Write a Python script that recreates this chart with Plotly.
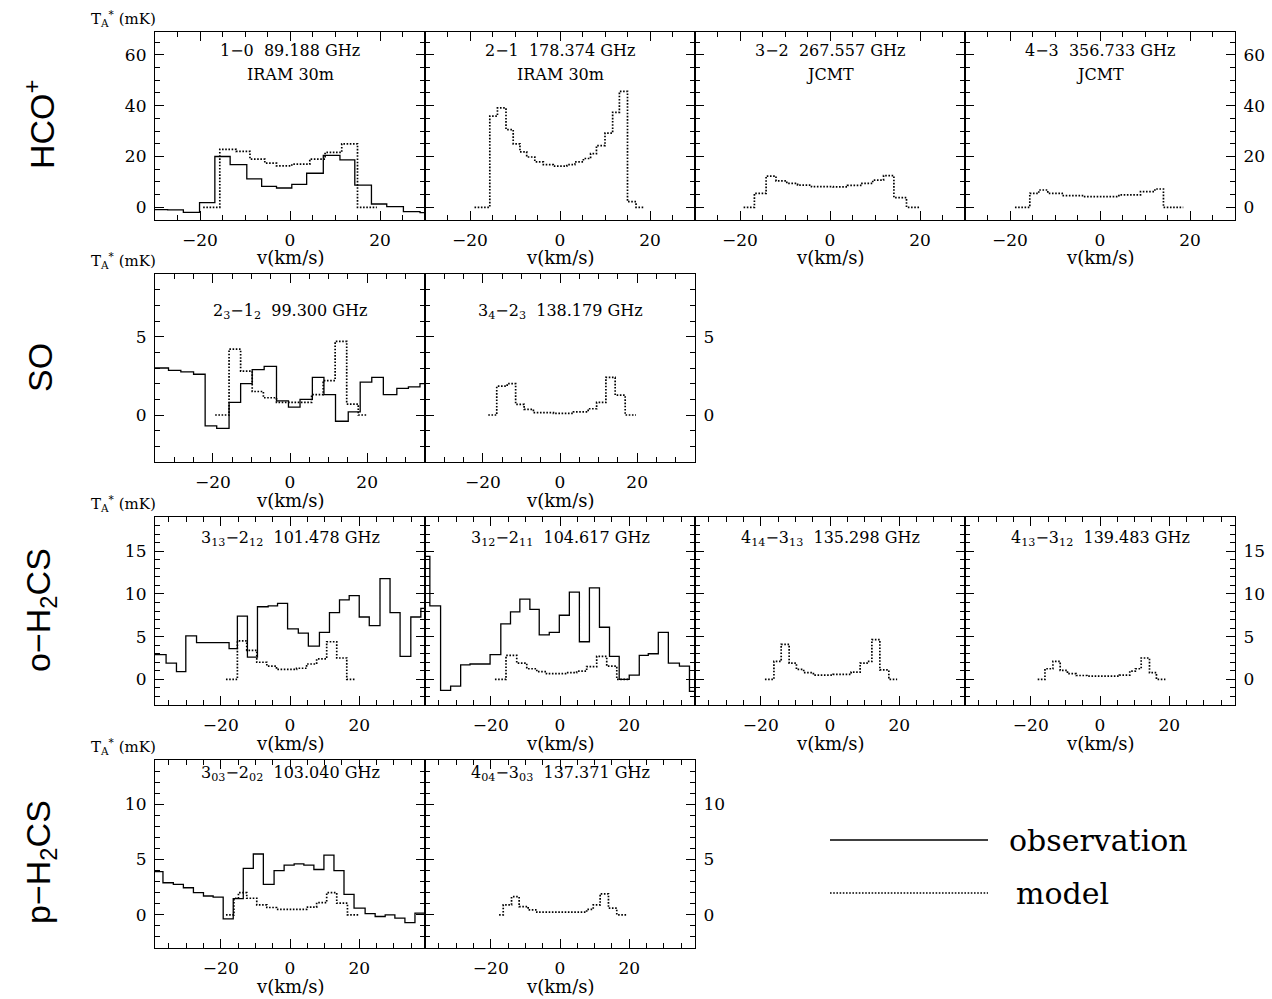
import plotly.graph_objects as go

# ===================== DATA (velocity bin edges in km/s, T_A* in mK) =====================
# HCO+ 1-0  (IRAM 30m)
hco10_obs_v = [-34.0, -27.2, -23.7, -20.1, -16.7, -13.3, -9.6, -6.3, -3.0, 0.4, 3.7, 7.4, 11.1,
               14.4, 18.1, 21.5, 25.2, 28.9, 32.4]
hco10_obs_T = [-0.9, -1.05, -2.0, 1.8, 20.0, 16.8, 11.2, 8.2, 7.6, 9.0, 13.4, 20.4, 18.7,
               8.7, 1.3, 0.3, -1.7, -2.1]
hco10_mod_v = [-19.3, -15.6, -12.0, -8.9, -5.6, -3.0, 0.4, 4.4, 7.8, 11.5, 15.0, 19.3]
hco10_mod_T = [0.0, 22.8, 22.0, 19.0, 17.4, 16.3, 17.0, 19.0, 21.6, 25.0, 0.0]

# HCO+ 2-1  (IRAM 30m)
hco21_mod_v = [-19.0, -15.6, -13.9, -12.0, -10.4, -8.9, -7.4, -5.6, -3.7, -1.5, 1.5, 3.3, 5.2,
               6.8, 8.1, 10.0, 11.7, 13.2, 15.0, 16.9, 18.5]
hco21_mod_T = [0.0, 35.9, 39.1, 30.6, 25.0, 21.8, 19.8, 17.9, 16.8, 16.2, 16.8, 17.9, 19.2,
               21.1, 24.3, 29.2, 37.4, 45.6, 2.2, 0.0]

# HCO+ 3-2  (JCMT)
hco32_mod_v = [-19.2, -16.8, -14.2, -12.0, -9.6, -7.2, -4.1, 0.7, 3.9, 7.1, 9.5, 11.9, 14.2, 17.0, 19.8]
hco32_mod_T = [0.0, 5.5, 12.3, 10.4, 9.4, 8.7, 8.1, 8.0, 8.6, 9.4, 10.7, 12.5, 3.8, 0.0]

# HCO+ 4-3  (JCMT)
hco43_mod_v = [-18.9, -15.6, -13.6, -11.6, -8.4, -3.7, 4.2, 9.0, 12.2, 14.1, 18.5]
hco43_mod_T = [0.0, 5.5, 6.8, 5.5, 4.6, 4.2, 4.9, 6.2, 7.2, 0.0]

# SO 2_3-1_2
so1_obs_v = [-37.6, -34.6, -31.5, -28.3, -25.0, -22.0, -19.0, -15.8, -12.8, -9.8, -6.7, -3.5, -0.4,
             2.6, 5.8, 8.8, 11.8, 15.1, 18.2, 21.2, 24.2, 27.7, 30.7, 33.7, 36.8]
so1_obs_T = [3.0, 3.0, 2.85, 2.75, 2.6, -0.7, -0.85, 0.8, 2.0, 2.9, 3.1, 0.9, 0.5, 1.0, 2.4, 1.3,
             -0.4, 0.2, 2.1, 2.4, 1.3, 1.7, 1.8, 2.0]
so1_mod_v = [-19.4, -15.8, -12.8, -9.8, -6.9, -3.5, 5.6, 8.6, 11.7, 14.7, 17.7, 19.9]
so1_mod_T = [0.0, 4.2, 2.8, 1.5, 1.1, 0.8, 1.3, 2.2, 4.7, 0.7, 0.0]

# SO 3_4-2_3
so2_mod_v = [-18.6, -16.4, -13.7, -11.5, -9.3, -6.9, -1.7, 3.5, 7.3, 9.5, 11.9, 14.3, 16.9, 19.7]
so2_mod_T = [0.0, 1.84, 2.0, 0.68, 0.36, 0.15, 0.1, 0.2, 0.4, 0.8, 2.4, 1.27, 0.0]

# o-H2CS 3_13-2_12
oh1_obs_v = [-42.0, -35.8, -32.8, -30.1, -27.0, -23.9, -20.7, -17.6, -15.2, -12.3, -9.4, -6.3, -3.6,
             -0.7, 2.4, 5.3, 8.5, 11.4, 14.3, 17.1, 20.0, 22.9, 26.0, 28.9, 31.8, 34.9, 37.8, 42.0]
oh1_obs_T = [2.9, 1.9, 0.9, 5.1, 4.3, 4.3, 4.3, 3.6, 7.4, 2.6, 8.5, 8.6, 8.9, 5.9, 5.4, 3.9, 5.5,
             7.8, 9.3, 9.8, 7.3, 6.3, 11.8, 7.8, 2.7, 7.3, 8.3]
oh1_mod_v = [-18.5, -15.2, -12.5, -9.6, -6.7, -3.9, 1.9, 4.8, 7.7, 10.6, 13.5, 16.4, 18.8]
oh1_mod_T = [0.0, 4.5, 3.4, 2.0, 1.55, 1.16, 1.3, 1.8, 2.4, 4.4, 2.5, 0.0]

# o-H2CS 3_12-2_11
oh2_obs_v = [-42.0, -37.6, -34.5, -31.6, -28.7, -26.0, -23.1, -20.2, -17.1, -14.3, -11.6, -8.7, -6.0,
             -3.1, -0.2, 2.7, 5.6, 8.5, 11.4, 14.3, 17.1, 20.0, 22.9, 25.5, 28.4, 31.3, 34.5, 37.4, 42.0]
oh2_obs_T = [14.4, 8.6, -1.3, -0.8, 1.7, 1.8, 1.8, 2.9, 6.5, 7.9, 9.4, 8.2, 5.2, 5.5, 7.5, 10.2,
             4.4, 10.7, 6.1, 2.7, 0.0, 0.5, 2.8, 3.0, 5.5, 1.9, 1.55, -1.4]
oh2_mod_v = [-18.8, -15.6, -12.5, -9.6, -6.7, -3.9, 1.9, 4.8, 7.7, 10.6, 13.5, 16.4, 19.7]
oh2_mod_T = [0.0, 2.8, 1.9, 1.24, 0.9, 0.66, 0.78, 0.97, 1.5, 2.7, 1.55, 0.0]

# o-H2CS 4_14-3_13
oh3_mod_v = [-18.8, -16.2, -14.1, -11.8, -9.7, -7.6, -4.8, 0.9, 6.1, 8.7, 10.7, 12.1, 14.4, 17.0, 19.4]
oh3_mod_T = [0.0, 2.1, 4.1, 1.9, 1.16, 0.78, 0.5, 0.58, 0.85, 1.9, 2.1, 4.65, 1.1, 0.0]

# o-H2CS 4_13-3_12
oh4_mod_v = [-18.0, -15.9, -13.6, -11.5, -9.4, -6.9, -3.8, 5.6, 8.6, 10.2, 11.9, 14.3, 16.3, 18.9]
oh4_mod_T = [0.0, 1.24, 2.1, 1.05, 0.66, 0.45, 0.38, 0.5, 0.97, 1.24, 2.5, 0.78, 0.0]

# p-H2CS 3_03-2_02
ph1_obs_v = [-42.0, -36.7, -33.7, -30.8, -27.9, -25.0, -22.2, -19.3, -16.4, -13.5, -10.6, -7.7, -4.6,
             -1.7, 1.2, 4.0, 6.9, 9.8, 12.7, 15.6, 18.5, 21.7, 24.6, 27.5, 30.3, 33.2, 36.1, 42.0]
ph1_obs_T = [3.9, 2.9, 2.75, 2.45, 2.0, 1.7, 1.6, -0.36, 1.46, 4.2, 5.5, 2.75, 4.0, 4.5, 4.6, 4.5,
             4.1, 5.4, 4.0, 1.85, 0.6, 0.1, -0.15, 0.0, -0.3, -0.7, 0.15]
ph1_mod_v = [-18.5, -16.2, -14.9, -12.5, -9.6, -6.7, -3.9, 4.8, 7.7, 10.6, 13.5, 16.6, 19.7]
ph1_mod_T = [0.0, 1.5, 2.0, 1.5, 0.9, 0.66, 0.5, 0.7, 1.1, 2.0, 1.05, 0.0]

# p-H2CS 4_04-3_03
ph2_mod_v = [-17.6, -16.4, -14.0, -11.8, -9.2, -6.7, 7.7, 9.6, 11.6, 14.0, 16.4, 19.3]
ph2_mod_T = [0.0, 0.9, 1.64, 0.75, 0.45, 0.24, 0.5, 0.9, 1.9, 0.6, 0.0]

row_labels = ["HCO<sup>+</sup>", "SO", "o−H<sub>2</sub>CS", "p−H<sub>2</sub>CS"]

# ===================== LAYOUT =====================
W, H = 1272, 999
COL_X = [155, 425, 695, 965]
ROW_Y = [32, 274, 517, 760]
PW, PH = 270, 188
SERIF = "DejaVu Serif, Liberation Serif, serif"
LABEL_FONT = "Liberation Sans, Arial, sans-serif"
SP = "\u00a0\u00a0"

rows = [
    dict(xr=[-30, 30], yr=[-5, 69], ydt=20, ymin=5, title_y=[51, 75]),
    dict(xr=[-35, 35], yr=[-3, 9], ydt=5, ymin=1, title_y=[311]),
    dict(xr=[-39, 39], yr=[-3, 19], ydt=5, ymin=1, title_y=[538]),
    dict(xr=[-39, 39], yr=[-3, 14], ydt=5, ymin=1, title_y=[773]),
]

panels = [
    (0, 0, (hco10_obs_v, hco10_obs_T), (hco10_mod_v, hco10_mod_T), ["1−0" + SP + "89.188 GHz", "IRAM 30m"], "left"),
    (0, 1, None, (hco21_mod_v, hco21_mod_T), ["2−1" + SP + "178.374 GHz", "IRAM 30m"], None),
    (0, 2, None, (hco32_mod_v, hco32_mod_T), ["3−2" + SP + "267.557 GHz", "JCMT"], None),
    (0, 3, None, (hco43_mod_v, hco43_mod_T), ["4−3" + SP + "356.733 GHz", "JCMT"], "right"),
    (1, 0, (so1_obs_v, so1_obs_T), (so1_mod_v, so1_mod_T),
     ["2<sub>3</sub>−1<sub>2</sub>" + SP + "99.300 GHz"], "left"),
    (1, 1, None, (so2_mod_v, so2_mod_T), ["3<sub>4</sub>−2<sub>3</sub>" + SP + "138.179 GHz"], "right"),
    (2, 0, (oh1_obs_v, oh1_obs_T), (oh1_mod_v, oh1_mod_T),
     ["3<sub>13</sub>−2<sub>12</sub>" + SP + "101.478 GHz"], "left"),
    (2, 1, (oh2_obs_v, oh2_obs_T), (oh2_mod_v, oh2_mod_T),
     ["3<sub>12</sub>−2<sub>11</sub>" + SP + "104.617 GHz"], None),
    (2, 2, None, (oh3_mod_v, oh3_mod_T), ["4<sub>14</sub>−3<sub>13</sub>" + SP + "135.298 GHz"], None),
    (2, 3, None, (oh4_mod_v, oh4_mod_T), ["4<sub>13</sub>−3<sub>12</sub>" + SP + "139.483 GHz"], "right"),
    (3, 0, (ph1_obs_v, ph1_obs_T), (ph1_mod_v, ph1_mod_T),
     ["3<sub>03</sub>−2<sub>02</sub>" + SP + "103.040 GHz"], "left"),
    (3, 1, None, (ph2_mod_v, ph2_mod_T), ["4<sub>04</sub>−3<sub>03</sub>" + SP + "137.371 GHz"], "right"),
]


def px(x, y):
    return x / W, 1 - y / H


def step_xy(edges, vals):
    return list(edges), list(vals) + [vals[-1]]


fig = go.Figure()
annotations = []
layout_axes = {}

for i, (r, c, obs, mod, title, ylab) in enumerate(panels, start=1):
    R = rows[r]
    x0, x1 = COL_X[c], COL_X[c] + PW
    y0, y1 = ROW_Y[r], ROW_Y[r] + PH
    xs = "" if i == 1 else str(i)
    xname, yname = "x" + xs, "y" + xs

    if obs is not None:
        ex, ey = step_xy(*obs)
        fig.add_trace(go.Scatter(x=ex, y=ey, mode="lines", line_shape="hv",
                                 line=dict(color="black", width=1.3),
                                 xaxis=xname, yaxis=yname, showlegend=False, hoverinfo="skip"))
    ex, ey = step_xy(*mod)
    fig.add_trace(go.Scatter(x=ex, y=ey, mode="lines", line_shape="hv",
                             line=dict(color="black", width=1.7, dash="1.6px,1.6px"),
                             xaxis=xname, yaxis=yname, showlegend=False, hoverinfo="skip"))

    dx0, dy1 = px(x0, y0)
    dx1, dy0 = px(x1, y1)
    common = dict(showgrid=False, zeroline=False, showline=True, linecolor="black", linewidth=1.2,
                  mirror="allticks", ticks="inside", tickcolor="black", tickwidth=1.1,
                  tickfont=dict(family=SERIF, size=17, color="black"), ticklabelstandoff=4)
    xa = dict(common, domain=[dx0, dx1], range=R["xr"], anchor=yname,
              tickvals=[-20, 0, 20], ticklen=9,
              minor=dict(dtick=5, tick0=0, ticklen=5, ticks="inside", tickcolor="black", tickwidth=1.0))
    ya = dict(common, domain=[dy0, dy1], range=R["yr"], anchor=xname,
              dtick=R["ydt"], tick0=0, ticklen=9,
              minor=dict(dtick=R["ymin"], tick0=0, ticklen=5, ticks="inside", tickcolor="black",
                         tickwidth=1.0))
    if ylab is None:
        ya["showticklabels"] = False
    else:
        ya["side"] = ylab
    layout_axes["xaxis" + xs] = xa
    layout_axes["yaxis" + xs] = ya

    # panel titles
    for k, t in enumerate(title):
        ax, ay = px((x0 + x1) / 2, R["title_y"][k])
        annotations.append(dict(text=t, x=ax, y=ay, xref="paper", yref="paper", showarrow=False,
                                xanchor="center", yanchor="middle",
                                font=dict(family=SERIF, size=16, color="black")))
    # x-axis title
    ax, ay = px((x0 + x1) / 2, y1 + 38)
    annotations.append(dict(text="v(km/s)", x=ax, y=ay, xref="paper", yref="paper", showarrow=False,
                            xanchor="center", yanchor="middle",
                            font=dict(family=SERIF, size=18, color="black")))

# T_A* (mK) labels and row labels
row_label_y = [125, 368, 610, 862]
for r in range(4):
    ax, ay = px(123, ROW_Y[r] - 14)
    annotations.append(dict(text="T<sub>A</sub><sup>*</sup> (mK)", x=ax, y=ay, xref="paper", yref="paper",
                            showarrow=False, xanchor="center", yanchor="middle",
                            font=dict(family=SERIF, size=15, color="black")))
    ax, ay = px(40, row_label_y[r])
    annotations.append(dict(text=row_labels[r], x=ax, y=ay, xref="paper", yref="paper", showarrow=False,
                            textangle=-90, xanchor="center", yanchor="middle",
                            font=dict(family=LABEL_FONT, size=34, color="black")))

# legend (drawn manually)
lx0, ly_obs = px(830, 840)
lx1, ly_mod = px(988, 893)
shapes = [
    dict(type="line", xref="paper", yref="paper", x0=lx0, x1=lx1, y0=ly_obs, y1=ly_obs,
         line=dict(color="black", width=1.3)),
    dict(type="line", xref="paper", yref="paper", x0=lx0, x1=lx1, y0=ly_mod, y1=ly_mod,
         line=dict(color="black", width=1.7, dash="1.6px,1.6px")),
]
ax, ay = px(1007, 840)
annotations.append(dict(text="observation", x=ax, y=ay, xref="paper", yref="paper", showarrow=False,
                        xanchor="left", yanchor="middle", font=dict(family=SERIF, size=30, color="black")))
ax, ay = px(1014, 893)
annotations.append(dict(text="model", x=ax, y=ay, xref="paper", yref="paper", showarrow=False,
                        xanchor="left", yanchor="middle", font=dict(family=SERIF, size=30, color="black")))

fig.update_layout(width=W, height=H, margin=dict(l=0, r=0, t=0, b=0),
                  paper_bgcolor="white", plot_bgcolor="white",
                  annotations=annotations, shapes=shapes, showlegend=False, **layout_axes)

fig.write_html("out.html", config={"displayModeBar": False},
               post_script="document.body.style.margin='0px';document.body.style.overflow='hidden';")
